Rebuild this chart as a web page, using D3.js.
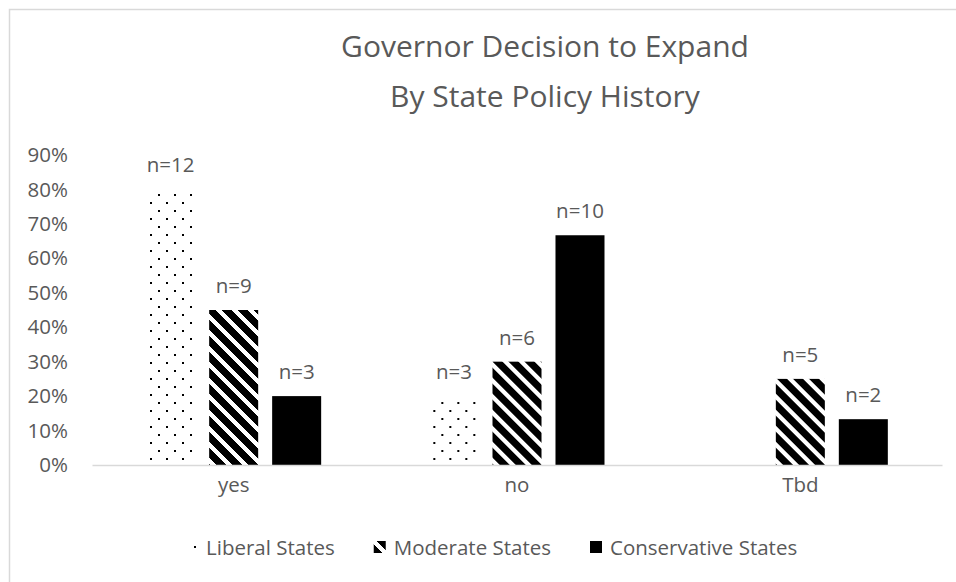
<!DOCTYPE html>
<html>
<head>
<meta charset="utf-8">
<script src="https://cdn.jsdelivr.net/npm/d3@7"></script>
<style>
  html, body { margin: 0; padding: 0; background: #fff; }
  svg { display: block; font-family: "Open Sans", Lato, sans-serif; }
</style>
</head>
<body>
<svg id="chart" width="956" height="582"></svg>
<script>
// Share of states in each policy-history group, by governor decision
const categories = ["yes", "no", "Tbd"];
const seriesNames = ["Liberal States", "Moderate States", "Conservative States"];
const liberal = [0.80, 0.20, 0];
const moderate = [0.45, 0.30, 0.25];
const conservative = [0.20, 0.667, 0.133];
const counts = [["n=12", "n=9", "n=3"], ["n=3", "n=6", "n=10"], ["", "n=5", "n=2"]];
const yTicks = [0, 0.1, 0.2, 0.3, 0.4, 0.5, 0.6, 0.7, 0.8, 0.9];
const titleLines = ["Governor Decision to Expand", "By State Policy History"];

const seriesValues = [liberal, moderate, conservative];
const textColor = "#595959";
const fontFamily = "'Open Sans', Lato, sans-serif";
const labelSize = 20.5;
const svg = d3.select("#chart");

// Fill patterns: dotted, wide downward diagonal, solid
const defs = svg.append("defs");
const dots = defs.append("pattern").attr("id", "pat-dots")
  .attr("patternUnits", "userSpaceOnUse").attr("width", 16).attr("height", 16);
dots.append("rect").attr("width", 16).attr("height", 16).attr("fill", "#fff");
dots.append("rect").attr("x", 2).attr("y", 2).attr("width", 2).attr("height", 2).attr("fill", "#000");
dots.append("rect").attr("x", 10).attr("y", 10).attr("width", 2).attr("height", 2).attr("fill", "#000");

const diag = defs.append("pattern").attr("id", "pat-diag")
  .attr("patternUnits", "userSpaceOnUse").attr("width", 16).attr("height", 16);
diag.append("rect").attr("width", 16).attr("height", 16).attr("fill", "#fff");
diag.append("path")
  .attr("d", "M0,0 L5,0 L16,11 L16,16 L11,16 L0,5 Z M0,11 L5,16 L0,16 Z M11,0 L16,0 L16,5 Z")
  .attr("fill", "#000").attr("shape-rendering", "crispEdges");

const fills = ["url(#pat-dots)", "url(#pat-diag)", "#000"];

// Outer frame
svg.append("rect").attr("x", 9.5).attr("y", 9.5).attr("width", 1000).attr("height", 700)
  .attr("fill", "none").attr("stroke", "#d9d9d9").attr("stroke-width", 1.5);

// Title
svg.append("g").selectAll("text").data(titleLines).join("text")
  .attr("x", 545).attr("y", (d, i) => 57 + i * 50)
  .attr("text-anchor", "middle").attr("fill", textColor)
  .attr("font-size", 30).text(d => d);

const plotLeft = 92, plotRight = 942;
const x0 = d3.scaleBand().domain(categories).range([plotLeft, plotRight]).padding(0);
const x1 = d3.scaleBand().domain(seriesNames).range([0, x0.bandwidth()])
  .paddingInner(0.222).paddingOuter(0.86);
const y = d3.scaleLinear().domain([0, 0.9]).range([465, 155]);

// Y axis labels (no axis line)
const yAxis = svg.append("g").attr("transform", `translate(${plotLeft - 24},0)`)
  .call(d3.axisLeft(y).tickValues(yTicks).tickFormat(d3.format(".0%")).tickSize(0).tickPadding(0));
yAxis.select(".domain").remove();
yAxis.selectAll("text").attr("fill", textColor).attr("font-size", labelSize)
  .attr("font-family", fontFamily);

// Bars
const groups = svg.append("g").selectAll("g").data(categories).join("g")
  .attr("transform", d => `translate(${x0(d)},0)`);
groups.each(function(cat, ci) {
  const g = d3.select(this);
  seriesNames.forEach((s, si) => {
    const v = seriesValues[si][ci];
    if (v > 0) {
      g.append("rect")
        .attr("x", x1(s)).attr("width", x1.bandwidth())
        .attr("y", y(v)).attr("height", y(0) - y(v))
        .attr("fill", fills[si]);
    }
    if (counts[ci][si]) {
      g.append("text")
        .attr("x", x1(s) + x1.bandwidth() / 2).attr("y", y(v) - 17)
        .attr("text-anchor", "middle").attr("fill", textColor)
        .attr("font-size", labelSize).text(counts[ci][si]);
    }
  });
});

// X axis baseline and category labels
const xAxis = svg.append("g").attr("transform", `translate(0,${y(0)})`)
  .call(d3.axisBottom(x0).tickSize(0).tickPadding(12));
xAxis.select(".domain").attr("stroke", "#d9d9d9").attr("stroke-width", 1.5);
xAxis.selectAll("text").attr("fill", textColor).attr("font-size", labelSize)
  .attr("font-family", fontFamily);

// Legend: marker, then label; entries laid out left to right
const legend = svg.append("g");
let cursor = 186;
seriesNames.forEach((name, i) => {
  legend.append("rect").attr("x", cursor).attr("y", 541).attr("width", 12).attr("height", 12)
    .attr("fill", fills[i]);
  const t = legend.append("text").attr("x", cursor + 20).attr("y", 555)
    .attr("fill", textColor).attr("font-size", labelSize).text(name);
  cursor += 20 + t.node().getComputedTextLength() + 39;
});
</script>
</body>
</html>
